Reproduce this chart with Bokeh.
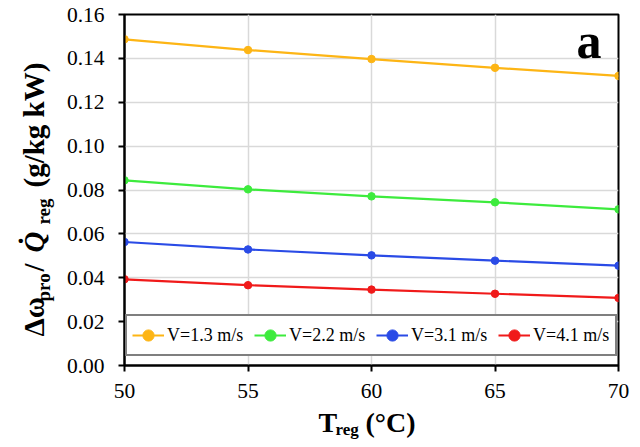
import math
from bokeh.plotting import figure
from bokeh.models import Label, NumeralTickFormatter, FixedTicker, Range1d
from bokeh.layouts import row, column
from bokeh.embed import file_html
from bokeh.resources import INLINE

# ---- data ----
t_reg = [50, 55, 60, 65, 70]
v13 = [0.1487, 0.1438, 0.1397, 0.1357, 0.1320]
v22 = [0.0844, 0.0803, 0.0771, 0.0744, 0.0712]
v31 = [0.0563, 0.0529, 0.0502, 0.0478, 0.0455]
v41 = [0.0393, 0.0366, 0.0346, 0.0327, 0.0308]
series_labels = ["V=1.3 m/s", "V=2.2 m/s", "V=3.1 m/s", "V=4.1 m/s"]
x_ticks = [50, 55, 60, 65, 70]
y_ticks = [0.00, 0.02, 0.04, 0.06, 0.08, 0.10, 0.12, 0.14, 0.16]

colors = ["#FDB515", "#3DEB3D", "#2A4BE6", "#F01A1A"]
FONT = "Liberation Serif"
AXIS_FONT = "'Liberation Serif', 'Times New Roman', serif"

TOTAL_W, TOTAL_H = 632, 439
TOP_H = 407
LAB_W = 60
BT, BB = 14, 42          # frame top / bottom borders of the main row
MID = 0.34               # offset of text middle above the alphabetic baseline (em)

p = figure(width=TOTAL_W - LAB_W, height=TOP_H, output_backend="svg", toolbar_location=None,
           x_range=Range1d(50, 70), y_range=Range1d(0, 0.16),
           min_border_left=64, min_border_right=14, min_border_top=BT, min_border_bottom=BB)

for ys, lab, c in zip([v13, v22, v31, v41], series_labels, colors):
    p.line(t_reg, ys, line_color=c, line_width=2.2, legend_label=lab)
    p.scatter(t_reg, ys, size=7.5, fill_color=c, line_color=c, legend_label=lab)

# axes
for ax in p.xaxis + p.yaxis:
    ax.axis_line_color = "black"
    ax.axis_line_width = 2
    ax.major_tick_line_color = "black"
    ax.major_tick_line_width = 2
    ax.major_tick_in = 0
    ax.major_tick_out = 6
    ax.minor_tick_line_color = None
    ax.major_label_text_font = AXIS_FONT
    ax.major_label_text_font_style = "normal"
    ax.major_label_text_font_size = "21.5px"
    ax.major_label_text_color = "black"
p.xaxis[0].ticker = FixedTicker(ticks=x_ticks)
p.yaxis[0].ticker = FixedTicker(ticks=y_ticks)
p.yaxis[0].formatter = NumeralTickFormatter(format="0.00")
p.xaxis[0].major_label_standoff = 12
p.yaxis[0].major_label_standoff = 14

p.xgrid.grid_line_color = "#d9d9d9"
p.ygrid.grid_line_color = "#d9d9d9"
p.xgrid.grid_line_width = 1.5
p.ygrid.grid_line_width = 1.5

p.outline_line_color = "black"
p.outline_line_width = 2
p.outline_line_alpha = 1

# legend
lg = p.legend[0]
lg.location = "bottom"
lg.orientation = "horizontal"
lg.margin = 9
lg.padding = 5
lg.spacing = 10
lg.glyph_width = 32
lg.glyph_height = 28
lg.label_standoff = 3
lg.label_width = 77
lg.label_text_font = FONT
lg.label_text_font_size = "18px"
lg.label_text_color = "black"
lg.border_line_color = "black"
lg.border_line_width = 2
lg.background_fill_color = "white"
lg.background_fill_alpha = 1

FRAME_BOTTOM = TOP_H - BB   # canvas y of the frame bottom

# panel letter (baseline at canvas y 57)
p.add_layout(Label(x=477, y=(FRAME_BOTTOM - 57) + MID * 50, x_units="screen", y_units="screen",
                   text="a", text_font=FONT, text_font_size="50px", text_font_style="bold",
                   text_align="right", text_baseline="middle", text_color="black"))

def blank(w, h, **kw):
    f = figure(width=w, height=h, output_backend="svg", toolbar_location=None,
               x_axis_type=None, y_axis_type=None, x_range=Range1d(0, 1), y_range=Range1d(0, 1),
               **kw)
    f.outline_line_color = None
    return f

# y-axis title (rotated pieces); frame aligned with main frame
yl = blank(LAB_W, TOP_H, min_border_left=0, min_border_right=0,
           min_border_top=BT, min_border_bottom=BB)
ang = math.pi / 2
def ylab(txt, ycanvas, size, style, base_x):
    yl.add_layout(Label(x=base_x - MID * size, y=FRAME_BOTTOM - ycanvas, x_units="screen",
                        y_units="screen", text=txt, angle=ang, text_font=FONT,
                        text_font_size=f"{size}px", text_font_style=style,
                        text_align="left", text_baseline="middle", text_color="black"))

ylab("\u0394\u03c9", 336, 29, "bold", 43)
ylab("pro", 301, 19, "bold", 49)
ylab("/", 271, 29, "bold", 43)
ylab("Q\u0307", 252, 29, "bold italic", 43)
ylab("reg", 224, 19, "bold", 49)
ylab("(g/kg kW)", 187, 29, "bold", 43)

# x-axis title pieces
XL_H = TOTAL_H - TOP_H
xl = blank(TOTAL_W, XL_H, min_border=0, min_border_left=0, min_border_right=0,
           min_border_top=0, min_border_bottom=0)
def xlab(txt, xpos, base_y, size):
    xl.add_layout(Label(x=xpos, y=(TOTAL_H - base_y) + MID * size, x_units="screen",
                        y_units="screen", text=txt, text_font=FONT,
                        text_font_size=f"{size}px", text_font_style="bold",
                        text_align="left", text_baseline="middle", text_color="black"))

xlab("T", 318, 432, 28)
xlab("reg", 335, 435, 17)
xlab("(\u00b0C)", 365, 432, 28)

layout = column(row(yl, p, spacing=0), xl, spacing=0)
open("out.html", "w").write(file_html(layout, INLINE))
